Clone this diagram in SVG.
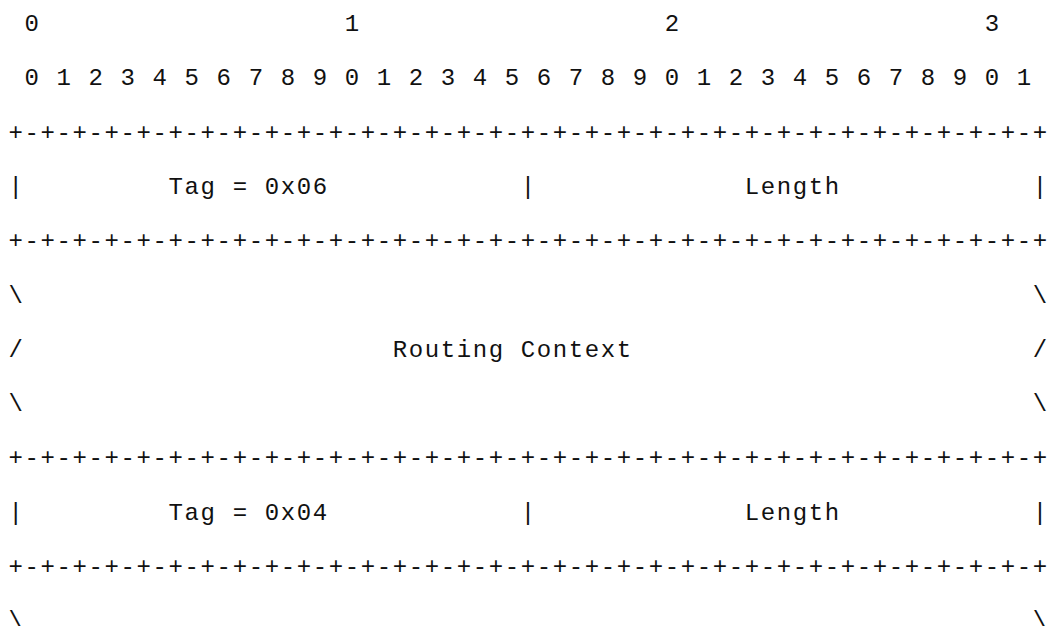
<svg xmlns="http://www.w3.org/2000/svg" width="1048" height="626" viewBox="0 0 1048 626">
<style>
text{font-family:"Liberation Mono","DejaVu Sans Mono",monospace;font-size:24px;letter-spacing:1.6px;fill:#111;white-space:pre}
</style>
<rect width="1048" height="626" fill="#fff"/>
<g id="ruler">
<text x="8.6" y="31" xml:space="preserve"> 0                   1                   2                   3</text>
<text x="8.6" y="85.3" xml:space="preserve"> 0 1 2 3 4 5 6 7 8 9 0 1 2 3 4 5 6 7 8 9 0 1 2 3 4 5 6 7 8 9 0 1</text>
</g>
<g id="header1">
<text x="8.6" y="139.6" xml:space="preserve">+-+-+-+-+-+-+-+-+-+-+-+-+-+-+-+-+-+-+-+-+-+-+-+-+-+-+-+-+-+-+-+-+</text>
<text x="8.6" y="193.9" xml:space="preserve">|         Tag = 0x06            |             Length            |</text>
<text x="8.6" y="248.2" xml:space="preserve">+-+-+-+-+-+-+-+-+-+-+-+-+-+-+-+-+-+-+-+-+-+-+-+-+-+-+-+-+-+-+-+-+</text>
</g>
<g id="routing-context">
<text x="8.6" y="302.5" xml:space="preserve">\                                                               \</text>
<text x="8.6" y="356.8" xml:space="preserve">/                       Routing Context                         /</text>
<text x="8.6" y="411.1" xml:space="preserve">\                                                               \</text>
</g>
<g id="header2">
<text x="8.6" y="465.4" xml:space="preserve">+-+-+-+-+-+-+-+-+-+-+-+-+-+-+-+-+-+-+-+-+-+-+-+-+-+-+-+-+-+-+-+-+</text>
<text x="8.6" y="519.7" xml:space="preserve">|         Tag = 0x04            |             Length            |</text>
<text x="8.6" y="574" xml:space="preserve">+-+-+-+-+-+-+-+-+-+-+-+-+-+-+-+-+-+-+-+-+-+-+-+-+-+-+-+-+-+-+-+-+</text>
</g>
<g id="value2">
<text x="8.6" y="628.3" xml:space="preserve">\                                                               \</text>
</g>
</svg>
